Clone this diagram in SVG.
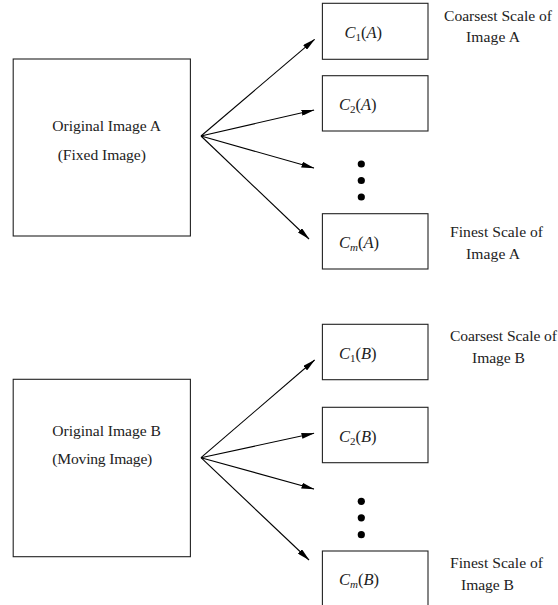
<svg xmlns="http://www.w3.org/2000/svg" width="558" height="605" viewBox="0 0 558 605">
<style>
.box{fill:#fff;stroke:#222;stroke-width:1.1}
.t{font-family:"Liberation Serif","Times New Roman",serif;font-size:15.6px;fill:#222}
.m{font-family:"Liberation Serif","Times New Roman",serif;font-size:16.5px;fill:#222}
.i{font-style:italic}
.s{font-size:11px}
.c{stroke:#000;stroke-width:1.1;fill:none}
.dot{fill:#000}
</style>
<defs>
<marker id="ah" viewBox="0 0 13 6" markerUnits="userSpaceOnUse" markerWidth="13" markerHeight="6" refX="12.5" refY="3" orient="auto">
<path d="M0,0 L13,3 L0,6 z" fill="#000"/>
</marker>
</defs>
<g id="origA">
<rect class="box" x="13.2" y="59" width="177.2" height="177"/>
<text class="t" x="52.3" y="131" textLength="108.6">Original Image A</text>
<text class="t" x="57.7" y="159.5" textLength="88.2">(Fixed Image)</text>
</g>
<g id="c1A">
<rect class="box" x="322.4" y="3.3" width="105.6" height="56"/>
<text class="m" x="344.5" y="38"><tspan class="i">C</tspan><tspan class="s" dy="3">1</tspan><tspan dy="-3">(</tspan><tspan class="i">A</tspan>)</text>
</g>
<g id="c2A">
<rect class="box" x="322.4" y="75.7" width="105.6" height="55.3"/>
<text class="m" x="339" y="110"><tspan class="i">C</tspan><tspan class="s" dy="3">2</tspan><tspan dy="-3">(</tspan><tspan class="i">A</tspan>)</text>
</g>
<g id="dotsA">
<circle class="dot" cx="361.3" cy="164" r="3.6"/>
<circle class="dot" cx="361.3" cy="180.5" r="3.6"/>
<circle class="dot" cx="361.3" cy="197" r="3.6"/>
</g>
<g id="cmA">
<rect class="box" x="322.4" y="213.7" width="105.6" height="55.3"/>
<text class="m" x="339" y="248"><tspan class="i">C</tspan><tspan class="s i" dy="3">m</tspan><tspan dy="-3">(</tspan><tspan class="i">A</tspan>)</text>
</g>
<g id="labelCoarseA">
<text class="t" x="444" y="20.5" textLength="108">Coarsest Scale of</text>
<text class="t" x="466" y="42" textLength="54">Image A</text>
</g>
<g id="labelFineA">
<text class="t" x="450" y="236.5" textLength="93">Finest Scale of</text>
<text class="t" x="466" y="258.5" textLength="54">Image A</text>
</g>
<g id="origB">
<rect class="box" x="13.2" y="379.3" width="177.2" height="177.4"/>
<text class="t" x="52.3" y="435.5" textLength="108.6">Original Image B</text>
<text class="t" x="52.3" y="463.5" textLength="100">(Moving Image)</text>
</g>
<g id="c1B">
<rect class="box" x="322.4" y="324.3" width="105.6" height="55.4"/>
<text class="m" x="339" y="359"><tspan class="i">C</tspan><tspan class="s" dy="3">1</tspan><tspan dy="-3">(</tspan><tspan class="i">B</tspan>)</text>
</g>
<g id="c2B">
<rect class="box" x="322.4" y="407.3" width="105.6" height="55.4"/>
<text class="m" x="339" y="442"><tspan class="i">C</tspan><tspan class="s" dy="3">2</tspan><tspan dy="-3">(</tspan><tspan class="i">B</tspan>)</text>
</g>
<g id="dotsB">
<circle class="dot" cx="361.3" cy="501.3" r="3.6"/>
<circle class="dot" cx="361.3" cy="517.8" r="3.6"/>
<circle class="dot" cx="361.3" cy="534.7" r="3.6"/>
</g>
<g id="cmB">
<rect class="box" x="322.4" y="551" width="105.6" height="56"/>
<text class="m" x="339" y="585"><tspan class="i">C</tspan><tspan class="s i" dy="3">m</tspan><tspan dy="-3">(</tspan><tspan class="i">B</tspan>)</text>
</g>
<g id="labelCoarseB">
<text class="t" x="450" y="341" textLength="107">Coarsest Scale of</text>
<text class="t" x="472" y="363" textLength="53">Image B</text>
</g>
<g id="labelFineB">
<text class="t" x="450" y="568" textLength="93">Finest Scale of</text>
<text class="t" x="461" y="590" textLength="53">Image B</text>
</g>
<g id="connectors">
<line class="c" x1="201" y1="136" x2="314.6" y2="39.3" marker-end="url(#ah)"/>
<line class="c" x1="201" y1="136" x2="314" y2="110" marker-end="url(#ah)"/>
<line class="c" x1="201" y1="136" x2="314" y2="168" marker-end="url(#ah)"/>
<line class="c" x1="201" y1="136" x2="309" y2="239" marker-end="url(#ah)"/>
<line class="c" x1="201" y1="457.7" x2="314.6" y2="360" marker-end="url(#ah)"/>
<line class="c" x1="201" y1="457.7" x2="314" y2="433.3" marker-end="url(#ah)"/>
<line class="c" x1="201" y1="457.7" x2="314" y2="489" marker-end="url(#ah)"/>
<line class="c" x1="201" y1="457.7" x2="309" y2="560" marker-end="url(#ah)"/>
</g>
</svg>
